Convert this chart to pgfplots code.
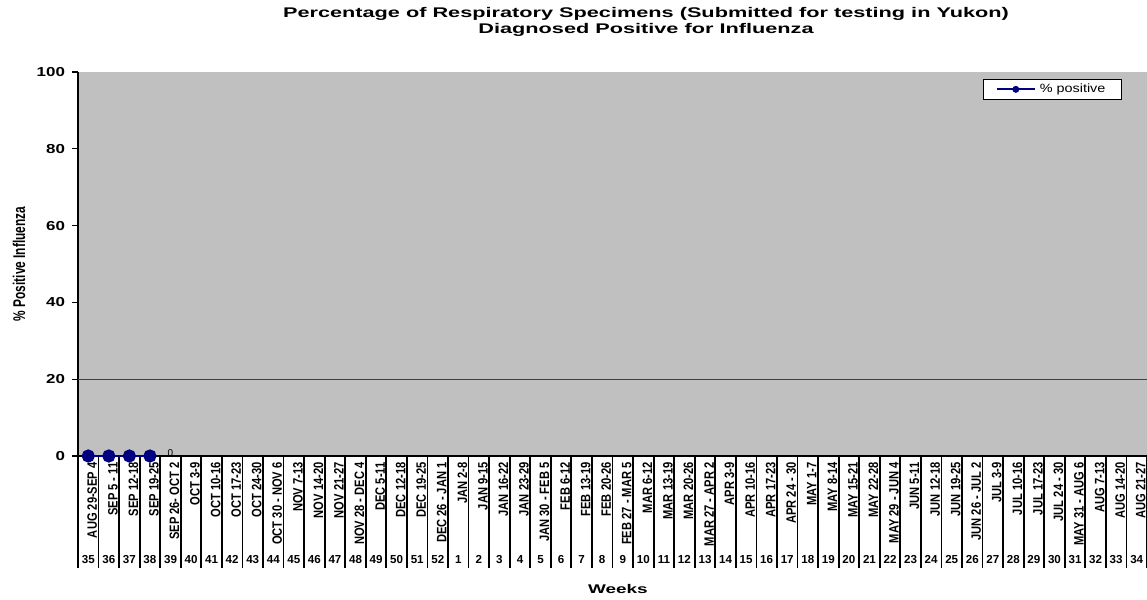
\documentclass[border=0pt]{standalone}
\usepackage{pgfplots}
\pgfplotsset{compat=1.18}
\usepackage{fontspec}
\setmainfont{Liberation Sans}
\newfontfamily\titlef[FakeStretch=1.55]{Liberation Sans}
\newfontfamily\tickf[FakeStretch=1.3]{Liberation Sans}
\newfontfamily\ylabf[FakeStretch=0.7]{Liberation Sans}
\newfontfamily\legf[FakeStretch=1.2]{Liberation Sans}
\newfontfamily\weekf[FakeStretch=1.5]{Liberation Sans}
\newfontfamily\datef[FakeStretch=0.82]{Liberation Sans}
\definecolor{navyc}{RGB}{0,0,128}
\definecolor{bgc}{RGB}{192,192,192}
\definecolor{gridc}{RGB}{64,64,64}
\begin{document}
\begin{tikzpicture}
\path[use as bounding box] (0pt,0pt) rectangle (573.5pt,300pt);
\node[align=center, font=\titlef\bfseries\fontsize{7}{8}\selectfont] at (323pt,289pt)
  {Percentage of Respiratory Specimens (Submitted for testing in Yukon)\\Diagnosed Positive for Influenza};
% separators and week numbers
\begin{axis}[
  at={(39pt,72pt)}, anchor=south west,
  width=534.5pt, height=192pt, scale only axis,
  xmin=-0.5, xmax=51.5, ymin=0, ymax=100,
  axis line style={draw=none},
  hide y axis,
  xtick={0,...,51},
  xticklabels={35,36,37,38,39,40,41,42,43,44,45,46,47,48,49,50,51,52,1,2,3,4,5,6,7,8,9,10,11,12,13,14,15,16,17,18,19,20,21,22,23,24,25,26,27,28,29,30,31,32,33,34},
  xtick pos=bottom,
  major tick length=0pt,
  minor xtick={-0.5,0.5,...,51.5},
  minor tick length=56pt,
  tick align=outside,
  minor tick style={black, line width=0.9pt},
  xticklabel style={anchor=base, inner sep=0pt, text height=4pt, text depth=0pt, yshift=-53.5pt, font=\bfseries\fontsize{5.8}{6}\selectfont},
  xlabel={Weeks},
  xlabel style={at={(axis description cs:0.5051,-0.3464)}, anchor=center, font=\weekf\bfseries\fontsize{6.3}{7}\selectfont},
]
\end{axis}
\begin{axis}[
  at={(39pt,72pt)}, anchor=south west,
  width=534.5pt, height=192pt, scale only axis,
  xmin=-0.5, xmax=51.5, ymin=0, ymax=100,
  axis x line*=bottom, axis y line*=left,
  axis line style={black, line width=0.8pt},
  axis background/.style={fill=bgc},
  clip=false,
  ytick={0,20,40,60,80,100},
  extra y ticks={20},
  extra y tick labels={},
  extra y tick style={grid=major, major grid style={gridc, line width=0.6pt}},
  major tick length=3pt,
  tick align=outside,
  ytick style={black, line width=0.6pt},
  yticklabel style={font=\tickf\bfseries\fontsize{6.5}{7}\selectfont},
  /pgf/number format/assume math mode=true,
  xtick={0,...,51},
  xtick style={draw=none},
  xticklabels={AUG 29-SEP 4,SEP 5 - 11,SEP 12-18,SEP 19-25,SEP 26- OCT 2,OCT 3-9,OCT 10-16,OCT 17-23,OCT 24-30,OCT 30 - NOV 6,NOV 7-13,NOV 14-20,NOV 21-27,NOV 28 - DEC 4,DEC 5-11,DEC 12-18,DEC 19-25,DEC 26 - JAN 1,JAN 2-8,JAN 9-15,JAN 16-22,JAN 23-29,JAN 30 - FEB 5,FEB 6-12,FEB 13-19,FEB 20-26,FEB 27 - MAR 5,MAR 6-12,MAR 13-19,MAR 20-26,MAR 27 - APR 2,APR 3-9,APR 10-16,APR 17-23,APR 24 - 30,MAY 1-7,MAY 8-14,MAY 15-21,MAY 22-28,MAY 29 - JUN 4,JUN 5-11,JUN 12-18,JUN 19-25,JUN 26 - JUL 2,JUL 3-9,JUL 10-16,JUL 17-23,JUL 24 - 30,MAY 31 - AUG 6,AUG 7-13,AUG 14-20,AUG 21-27},
  xticklabel style={rotate=90, anchor=east, inner sep=0pt, yshift=-2pt, font=\datef\bfseries\fontsize{6.8}{7}\selectfont},
  ylabel={\% Positive Influenza},
  ylabel style={at={(axis description cs:-0.0552,0.5)}, anchor=center, font=\ylabf\bfseries\fontsize{8.5}{9}\selectfont},
  legend style={at={(0.9766,0.9818)}, anchor=north east, draw=black, fill=white, line width=0.5pt,
    font=\legf\fontsize{6}{6}\selectfont, inner xsep=6pt, inner ysep=0pt},
  legend cell align=left,
  legend image code/.code={\draw[navyc, line width=1pt] (0pt,0pt) -- (19pt,0pt); \fill[navyc] (9.5pt,0pt) circle (1.2pt);},
]
\addplot[navyc, line width=1pt, mark=*, mark size=2.8pt, mark options={fill=navyc, draw=navyc}]
  coordinates {(0,0) (1,0) (2,0) (3,0)};
\addlegendentry{\% positive}
\node[font=\fontsize{5}{5}\selectfont, inner sep=0pt] at (axis cs:4,0) [yshift=1.5pt] {0};
\end{axis}
\end{tikzpicture}
\end{document}
